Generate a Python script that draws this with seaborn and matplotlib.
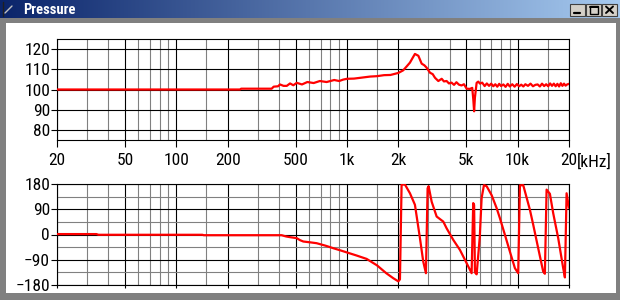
import numpy as np
import pandas as pd
import seaborn as sns
import matplotlib
matplotlib.use("Agg")
import matplotlib.pyplot as plt
from matplotlib import font_manager as fm
from matplotlib.patches import Rectangle
from matplotlib.lines import Line2D
from matplotlib.ticker import FixedLocator, FixedFormatter, NullFormatter

# ---------------- data ----------------
mag_freq = [20, 236, 240, 362, 372, 395, 405, 425, 444, 464, 485, 508, 545, 586, 638,
            694, 760, 842, 900, 950, 1000, 1100, 1200, 1366, 1500, 1650, 1800, 2000,
            2136, 2237, 2339, 2420, 2502, 2620, 2740, 2840, 2930, 3067, 3180, 3280,
            3430, 3590, 3700, 3837, 3960, 4100, 4240, 4380, 4530, 4690, 4850, 5025,
            5250, 5420, 5500, 5560, 5620, 5752, 5880, 6020, 6200, 6410, 6600, 6800,
            7000, 7200, 7400, 7600, 7800, 8000, 8250, 8500, 8750, 9000, 9300, 9600,
            9900, 10200, 10500, 10800, 11100, 11500, 11900, 12300, 12700, 13100,
            13500, 13900, 14300, 14700, 15100, 15500, 15900, 16300, 16700, 17100,
            17500, 17900, 18300, 18700, 19100, 19500, 20000]
mag_db = [100.0, 100.0, 100.4, 100.4, 101.4, 101.6, 102.5, 101.8, 101.8, 103.0, 102.1,
          103.3, 102.5, 103.7, 103.2, 104.2, 103.7, 104.7, 104.2, 104.9, 105.3, 105.4,
          105.8, 106.4, 106.6, 107.1, 107.2, 108.2, 109.5, 111.4, 113.3, 115.5, 117.6,
          116.7, 112.8, 112.0, 110.8, 108.3, 107.6, 105.8, 104.2, 105.3, 104.0, 104.2,
          103.0, 103.4, 102.3, 103.6, 102.4, 102.0, 102.6, 100.4, 100.3, 100.8, 95.0,
          89.2, 96.0, 103.3, 103.9, 102.9, 103.4, 101.7, 103.0, 101.8, 102.9, 101.6,
          102.6, 101.4, 102.8, 101.7, 102.5, 101.3, 102.8, 101.5, 102.6, 101.4, 102.7,
          101.6, 102.4, 101.5, 102.6, 101.8, 102.9, 101.6, 102.3, 102.5, 101.5, 102.9,
          101.7, 102.6, 101.6, 103.0, 101.8, 102.9, 101.6, 102.8, 101.5, 103.1, 101.8,
          102.9, 101.9, 102.5, 102.8]

phase_freq = [20, 34, 35, 142, 145, 414, 440, 464, 508, 530, 555, 610, 664, 750, 833,
              920, 1000, 1140, 1304, 1500, 1700, 1870, 2000, 2044, 2090, 2187, 2339,
              2502, 2677, 2798, 2902, 2969, 3010, 3135, 3354, 3667, 3837, 4195, 4592,
              5025, 5376, 5430, 5494, 5560, 5621, 5752, 6000, 6153, 6349, 6585, 7045,
              7533, 7875, 8423, 9011, 9640, 10080, 10315, 10786, 11803, 12340, 13200,
              14120, 14445, 14780, 15457, 16160, 17290, 18495, 18925, 19360, 20000]
phase_deg = [1.5, 1.5, -1.0, -1.0, -2.5, -2.5, -7, -9.5, -13, -20, -25, -28, -31, -40,
             -49, -57, -64, -75, -87, -110, -138, -156, -167, -160, 178, 178, 147,
             106, -13, -96, -138, 165, 172, 117, 64, 46, 22, -19, -55, -102, -138,
             -20, 112, 105, -135, -142, -10, 130, 176, 172, 140, 94, 58, -1, -61, -120,
             -138, 175, 176, 88, 35, -49, -132, -140, 160, 145, 76, -13, -120, -153,
             147, 95]

x_major = [20, 50, 100, 200, 500, 1000, 2000, 5000, 10000, 20000]
x_major_labels = ["20", "50", "100", "200", "500", "1k", "2k", "5k", "10k", "20"]
x_minor = [30, 40, 60, 70, 80, 90, 150, 300, 400, 600, 700, 800, 900, 1500,
           3000, 4000, 6000, 7000, 8000, 9000, 15000]
mag_ticks = [80, 90, 100, 110, 120]
phase_ticks = [-180, -90, 0, 90, 180]
phase_labels = ["\u2212180", "\u221290", "0", "90", "180"]
phase_minor = [-135, -45, 45, 135]
window_title = "Pressure"
unit_label = "[kHz]"

# ---------------- style ----------------
sns.set_theme(style="white")

# pick a narrow sans face if one is installed
fams = {}
for f in fm.fontManager.ttflist:
    fams.setdefault(f.name, []).append(f)


def _narrow(f):
    s = f.stretch
    if isinstance(s, str):
        return 'condensed' in s or s == 'narrower'
    return s < 500


family, stretch = 'Liberation Sans', 'normal'
for n in ['Liberation Sans Narrow', 'Arial Narrow', 'Roboto Condensed', 'Noto Sans Condensed']:
    if n in fams:
        family = n
        break
else:
    for n in ['Noto Sans', 'DejaVu Sans', 'Open Sans', 'Roboto', 'Lato', 'Inter']:
        if n in fams and any(_narrow(f) for f in fams[n]):
            family, stretch = n, 'condensed'
            break

plt.rcParams['font.family'] = [family, 'DejaVu Sans']
plt.rcParams['font.stretch'] = stretch
plt.rcParams['axes.unicode_minus'] = True
NARROW = family != 'Liberation Sans'

W, H = 620, 300
fig = plt.figure(figsize=(W / 100, H / 100), dpi=100)
fig.patch.set_facecolor('#808080')

# window chrome, drawn in pixel coordinates
bg = fig.add_axes([0, 0, 1, 1], zorder=-5)
bg.set_xlim(0, W)
bg.set_ylim(H, 0)
bg.axis('off')
c0 = np.array([10, 36, 106]) / 255.0
c1 = np.array([166, 202, 240]) / 255.0
t = np.linspace(0, 1, 256)[None, :, None]
grad = c0 + (c1 - c0) * t
bg.imshow(grad, extent=[0, W, 18, 0], aspect='auto', interpolation='bilinear', zorder=1)
bg.add_patch(Rectangle((6, 23), 610, 270, facecolor='white', edgecolor='none', zorder=1))
bg.add_line(Line2D([2.5, 2.5], [2, 16], color='#202020', lw=1.0, zorder=2))
bg.add_line(Line2D([5, 12], [13, 6], color='#c0c0c0', lw=1.0, zorder=2))
bg.text(23, 9.5, window_title, color='white', fontsize=10.5 if NARROW else 8.8,
        fontweight='bold', va='center', ha='left', zorder=3)
for bx in (570, 586, 602):
    bg.add_patch(Rectangle((bx, 3.5), 15, 12.5, facecolor='#D4D0C8',
                           edgecolor='#404040', lw=0.8, zorder=2))
bg.add_line(Line2D([574, 580], [13, 13], color='black', lw=1.6, zorder=3))
bg.add_patch(Rectangle((589.5, 6), 8, 7.5, facecolor='none', edgecolor='black', lw=1.0, zorder=3))
bg.add_line(Line2D([589.5, 597.5], [6.6, 6.6], color='black', lw=1.4, zorder=3))
bg.add_line(Line2D([606, 613], [6.5, 13], color='black', lw=1.4, zorder=3))
bg.add_line(Line2D([606, 613], [13, 6.5], color='black', lw=1.4, zorder=3))

# plot axes
ax1 = fig.add_axes([57 / W, 1 - 140 / H, 512 / W, 101 / H])
ax2 = fig.add_axes([57 / W, 1 - 285 / H, 512 / W, 101 / H])

df_mag = pd.DataFrame({"freq": mag_freq, "db": mag_db})
df_ph = pd.DataFrame({"freq": phase_freq, "deg": phase_deg})

sns.lineplot(data=df_mag, x="freq", y="db", ax=ax1, color='#FF0000', linewidth=1.6,
             estimator=None, zorder=5)
sns.lineplot(data=df_ph, x="freq", y="deg", ax=ax2, color='#FF0000', linewidth=1.6,
             estimator=None, zorder=5)

LBL = 12.5
for ax in (ax1, ax2):
    ax.set_xscale('log')
    ax.set_xlim(20, 20000)
    ax.set_facecolor('white')
    ax.set_xlabel('')
    ax.set_ylabel('')
    ax.xaxis.set_major_locator(FixedLocator(x_major))
    ax.xaxis.set_minor_locator(FixedLocator(x_minor))
    ax.xaxis.set_minor_formatter(NullFormatter())
    ax.grid(which='major', color='black', linewidth=0.8)
    ax.grid(which='minor', color='#808080', linewidth=0.8)
    ax.set_axisbelow(True)
    for s in ax.spines.values():
        s.set_color('black')
        s.set_linewidth(0.8)
        s.set_visible(True)
    ax.tick_params(axis='both', which='minor', length=0)
    ax.tick_params(axis='y', which='major', left=True, direction='out', length=4,
                   width=0.8, color='black', pad=1, labelsize=LBL, labelcolor='black')

ax1.xaxis.set_major_formatter(FixedFormatter(x_major_labels))
ax1.tick_params(axis='x', which='major', bottom=True, direction='out', length=5,
                width=0.8, color='black', pad=4.5, labelsize=LBL, labelcolor='black')
ax1.set_ylim(75, 125)
ax1.yaxis.set_major_locator(FixedLocator(mag_ticks))
ax1.yaxis.set_minor_locator(FixedLocator([]))
ax1.grid(which='minor', axis='y', visible=False)
ax1.annotate(unit_label, xy=(1, 0), xycoords='axes fraction',
             xytext=(6.0 if NARROW else 7.5, -9.5),
             textcoords='offset points', ha='left', va='top', fontsize=LBL, color='black')

ax2.xaxis.set_major_formatter(NullFormatter())
ax2.tick_params(axis='x', which='major', bottom=True, direction='out', length=2,
                width=0.8, color='black', labelbottom=False)
ax2.set_ylim(-180, 180)
ax2.yaxis.set_major_locator(FixedLocator(phase_ticks))
ax2.yaxis.set_major_formatter(FixedFormatter(phase_labels))
ax2.yaxis.set_minor_locator(FixedLocator(phase_minor))

fig.savefig("out.png", dpi=100, facecolor=fig.get_facecolor())
